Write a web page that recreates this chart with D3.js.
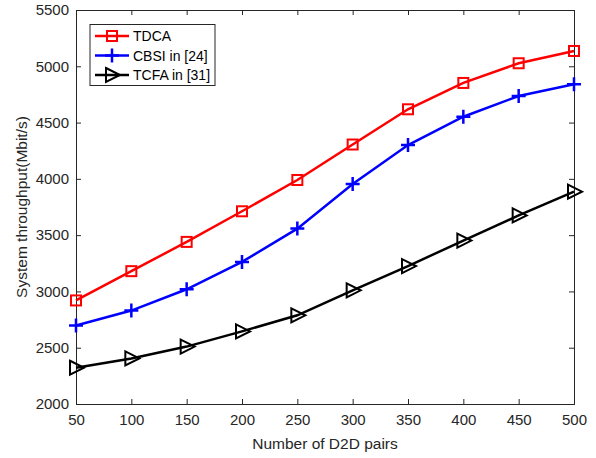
<!DOCTYPE html>
<html><head><meta charset="utf-8">
<script src="https://cdn.jsdelivr.net/npm/d3@7/dist/d3.min.js"></script>
<style>body{margin:0;background:#fff}svg{display:block}</style>
</head><body><svg id="c" width="596" height="458"></svg>
<script>
const xValues = [50,100,150,200,250,300,350,400,450,500];
const tdca = [2920,3180,3440,3712,3990,4305,4618,4852,5027,5136];
const cbsi = [2698,2830,3019,3262,3558,3955,4300,4552,4736,4840];
const tcfa = [2322,2405,2510,2645,2788,3010,3225,3452,3675,3886];
const xTicks = [50,100,150,200,250,300,350,400,450,500];
const yTicks = [2000,2500,3000,3500,4000,4500,5000,5500];
const seriesNames = ["TDCA","CBSI in [24]","TCFA in [31]"];
const colors = ["#ff0000","#0000ff","#000000"];
const markers = ["square","plus","triangle"];

const svg = d3.select("#c");
const L=76,R=574,T=10,B=404;
const x = d3.scaleLinear().domain([50,500]).range([L,R]);
const y = d3.scaleLinear().domain([2000,5500]).range([B,T]);
const font = "'Liberation Sans', Arial, sans-serif";
const axisCol = "#262626";

svg.append("rect").attr("x",0).attr("y",0).attr("width",596).attr("height",458).attr("fill","#fff");

const gx = svg.append("g").attr("transform",`translate(0,${B})`)
  .call(d3.axisBottom(x).tickValues(xTicks).tickSize(-5).tickPadding(10).tickFormat(d3.format("d")));
const gy = svg.append("g").attr("transform",`translate(${L},0)`)
  .call(d3.axisLeft(y).tickValues(yTicks).tickSize(-5).tickPadding(7).tickFormat(d3.format("d")));
const gx2 = svg.append("g").attr("transform",`translate(0,${T})`)
  .call(d3.axisTop(x).tickValues(xTicks).tickSize(-5).tickFormat(""));
const gy2 = svg.append("g").attr("transform",`translate(${R},0)`)
  .call(d3.axisRight(y).tickValues(yTicks).tickSize(-5).tickFormat(""));
[gx,gy,gx2,gy2].forEach(g=>{
  g.select(".domain").attr("stroke",axisCol).attr("stroke-width",1);
  g.selectAll(".tick line").attr("stroke",axisCol);
  g.selectAll("text").attr("font-family",font).attr("font-size",15).attr("fill",axisCol);
});

const line = d3.line().x(d=>x(d[0])).y(d=>y(d[1]));
const allSeries = [tdca,cbsi,tcfa];

function drawMarker(g, type, cx, cy, col){
  if(type==="square"){
    g.append("rect").attr("x",cx-5).attr("y",cy-5).attr("width",10).attr("height",10)
      .attr("fill","none").attr("stroke",col).attr("stroke-width",2);
  } else if(type==="plus"){
    g.append("path").attr("d",`M${cx-7},${cy}H${cx+7}M${cx},${cy-7}V${cy+7}`)
      .attr("stroke",col).attr("stroke-width",2.5).attr("fill","none");
  } else {
    g.append("path").attr("d",`M${cx-6},${cy-7}L${cx+8},${cy}L${cx-6},${cy+7}Z`)
      .attr("stroke",col).attr("stroke-width",2).attr("fill","none").attr("stroke-linejoin","miter");
  }
}

allSeries.forEach((vals,i)=>{
  const pts = xValues.map((v,j)=>[v,vals[j]]);
  const g = svg.append("g");
  g.append("path").datum(pts).attr("d",line).attr("fill","none")
    .attr("stroke",colors[i]).attr("stroke-width",2.5);
  pts.forEach(p=>drawMarker(g,markers[i],x(p[0]),y(p[1]),colors[i]));
});

// legend
const lg = svg.append("g");
lg.append("rect").attr("x",90).attr("y",24.5).attr("width",125).attr("height",61)
  .attr("fill","#fff").attr("stroke",axisCol).attr("stroke-width",1);
seriesNames.forEach((n,i)=>{
  const yy = 36+i*19.5;
  lg.append("line").attr("x1",95).attr("x2",129).attr("y1",yy).attr("y2",yy)
    .attr("stroke",colors[i]).attr("stroke-width",2.5);
  drawMarker(lg,markers[i],112,yy,colors[i]);
  lg.append("text").attr("x",133).attr("y",yy+5).text(n)
    .attr("font-family",font).attr("font-size",14).attr("fill","#000");
});

svg.append("text").attr("x",(L+R)/2).attr("y",449).attr("text-anchor","middle")
  .attr("font-family",font).attr("font-size",15.5).attr("fill",axisCol).text("Number of D2D pairs");
svg.append("text").attr("transform",`translate(27,${(T+B)/2}) rotate(-90)`).attr("text-anchor","middle")
  .attr("font-family",font).attr("font-size",15.5).attr("fill",axisCol).text("System throughput(Mbit/s)");
</script></body></html>
